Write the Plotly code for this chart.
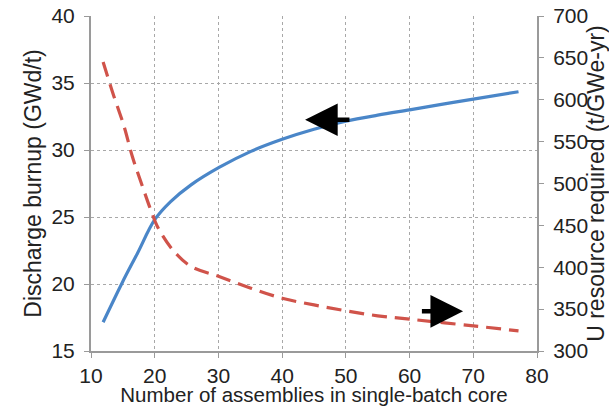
import plotly.graph_objects as go

# Data
assemblies_burnup = [11.9, 14.9, 17.3, 20.0, 22.5, 25.7, 30.1, 35.1, 40.0, 45.0, 50.0, 55.0, 60.0, 65.0, 70.0, 77.1]
burnup = [17.15, 20.1, 22.3, 24.8, 26.15, 27.4, 28.7, 29.9, 30.8, 31.55, 32.15, 32.6, 33.0, 33.4, 33.8, 34.35]

assemblies_uranium = [11.9, 13.6, 15.2, 16.5, 18.1, 19.4, 20.4, 22.8, 25.7, 30.1, 35.1, 40.0, 45.0, 50.0, 55.0, 60.0, 70.0, 77.1]
uranium = [645, 604, 568, 532, 496, 468, 449, 421, 401, 389, 375, 363, 355, 348, 342, 338, 330, 324]

x_ticks = [10, 20, 30, 40, 50, 60, 70, 80]
y_left_ticks = [15, 20, 25, 30, 35, 40]
y_right_ticks = [300, 350, 400, 450, 500, 550, 600, 650, 700]

FONT = "Liberation Sans, Arial, sans-serif"
AXIS_GRAY = "#9a9a9a"
GRID_GRAY = "#a8a8a8"

fig = go.Figure()
fig.add_trace(go.Scatter(
    x=assemblies_burnup, y=burnup, mode="lines",
    line=dict(color="#4a86c8", width=3.2, shape="spline", smoothing=1.0),
    yaxis="y", showlegend=False))
fig.add_trace(go.Scatter(
    x=assemblies_uranium, y=uranium, mode="lines",
    line=dict(color="#d0534a", width=3.2, dash="15px,8px", shape="spline", smoothing=1.0),
    yaxis="y2", showlegend=False))

# Arrows pointing to the relevant axis
fig.add_annotation(x=43.6, y=32.26, ax=50.8, ay=32.26, xref="x", yref="y",
                   axref="x", ayref="y", text="", showarrow=True,
                   arrowhead=2, arrowwidth=4.5, arrowsize=1.45, arrowcolor="black")
fig.add_annotation(x=68.4, y=17.96, ax=61.7, ay=17.96, xref="x", yref="y",
                   axref="x", ayref="y", text="", showarrow=True,
                   arrowhead=2, arrowwidth=4.5, arrowsize=1.45, arrowcolor="black")

common = dict(showline=True, linecolor=AXIS_GRAY, linewidth=2, ticks="outside",
              ticklen=5, tickcolor=AXIS_GRAY, zeroline=False, automargin=False,
              tickfont=dict(size=21))

fig.update_layout(
    width=609, height=406,
    margin=dict(l=91, r=72, t=16, b=55),
    paper_bgcolor="white", plot_bgcolor="white",
    font=dict(family=FONT, size=21, color="#222222"),
    xaxis=dict(range=[10, 80], tickvals=x_ticks,
               showgrid=True, gridcolor=GRID_GRAY, griddash="dot", gridwidth=1,
               title=dict(text="Number of assemblies in single-batch core", standoff=0,
                          font=dict(size=20.5)), **common),
    yaxis=dict(range=[15, 40], tickvals=y_left_ticks, ticklabelstandoff=5,
               showgrid=True, gridcolor=GRID_GRAY, griddash="dot", gridwidth=1,
               title=dict(text="Discharge burnup (GWd/t)", standoff=3, font=dict(size=23)),
               **common),
    yaxis2=dict(range=[300, 700], tickvals=y_right_ticks, overlaying="y", side="right",
                showgrid=False, ticklabelstandoff=5,
                title=dict(text="U resource required (t/GWe-yr)", standoff=0,
                           font=dict(size=23)), **common),
)

fig.write_html("out.html", config={"displayModeBar": False},
               post_script="document.body.style.margin='0';document.body.style.overflow='hidden';")
